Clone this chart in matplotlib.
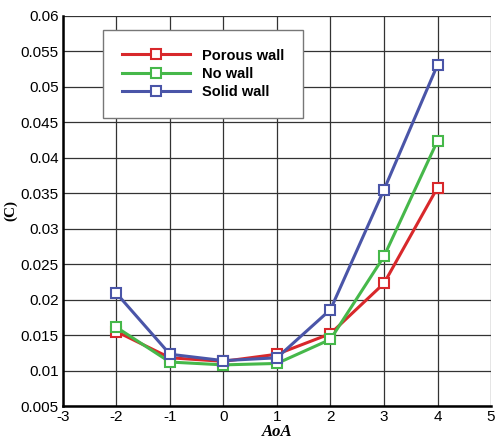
import matplotlib
matplotlib.use("Agg")
import matplotlib.pyplot as plt

plt.rcParams["axes.unicode_minus"] = False

aoa = [-2, -1, 0, 1, 2, 3, 4]
porous = [0.0155, 0.0118, 0.0113, 0.0123, 0.0152, 0.0223, 0.0358]
nowall = [0.0161, 0.0112, 0.0108, 0.0110, 0.0144, 0.0261, 0.0424]
solid = [0.0209, 0.0123, 0.0114, 0.0118, 0.0186, 0.0355, 0.0531]
labels = ["Porous wall", "No wall", "Solid wall"]
colors = ["#d8282b", "#46b84a", "#4a55a8"]

fig = plt.figure(figsize=(4.95, 4.43), dpi=100)
ax = fig.add_axes([0.127, 0.0835, 0.865, 0.8805])

for y, lab, c in zip([porous, nowall, solid], labels, colors):
    ax.plot(aoa, y, color=c, lw=2.2, marker="s", ms=7.5, mfc="white",
            mec=c, mew=1.5, label=lab)

ax.set_xlim(-3, 5)
ax.set_ylim(0.005, 0.06)
ax.set_xticks(range(-3, 6))
ax.set_yticks([0.005 + 0.005 * i for i in range(12)])
ax.set_yticklabels(["0.005", "0.01", "0.015", "0.02", "0.025", "0.03", "0.035",
                    "0.04", "0.045", "0.05", "0.055", "0.06"])
ax.grid(True, color="#333333", lw=0.9)
ax.set_axisbelow(True)
ax.tick_params(labelsize=11, length=0, pad=3)
for t in ax.get_xticklabels() + ax.get_yticklabels():
    t.set_family("Liberation Sans")
for s in ["top", "right"]:
    ax.spines[s].set_visible(False)
for s in ["left", "bottom"]:
    ax.spines[s].set_linewidth(1.8)

ax.set_xlabel("AoA", fontsize=12, fontstyle="italic", fontweight="bold",
              family="Liberation Serif", labelpad=0)
ax.set_ylabel("(C)", fontsize=11, fontweight="bold", family="Liberation Serif",
              labelpad=2)

leg = ax.legend(loc="upper left", bbox_to_anchor=(0.093, 0.965), fancybox=False,
                edgecolor="#777777", framealpha=1, handlelength=4.7,
                prop={"weight": "bold", "size": 10.5, "family": "Liberation Sans"},
                borderpad=1.3, labelspacing=0.3, handletextpad=0.8,
                borderaxespad=0, markerscale=0.95)
leg.get_frame().set_linewidth(1.0)

fig.savefig("out.png", dpi=100)
